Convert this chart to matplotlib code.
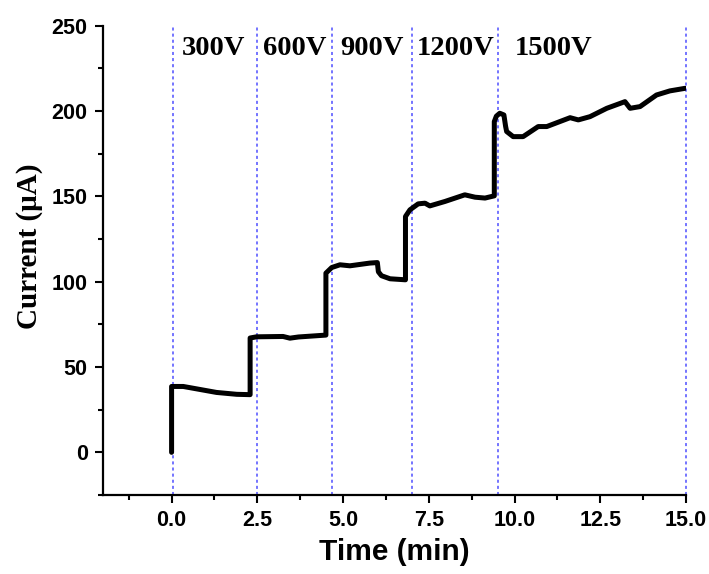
import matplotlib
matplotlib.use("Agg")
import matplotlib.pyplot as plt
from matplotlib.ticker import MultipleLocator

# ---- data ----
time_min = [0.0, 0.0, 0.34, 1.31, 1.9, 2.29, 2.29, 2.48, 3.25, 3.45, 3.7, 4.5,
            4.5, 4.67, 4.91, 5.2, 5.78, 6.0, 6.03, 6.12, 6.37, 6.82,
            6.82, 6.95, 7.19, 7.39, 7.53, 7.97, 8.55, 8.85, 9.14, 9.41,
            9.41, 9.47, 9.57, 9.69, 9.74, 9.77, 9.96, 10.25, 10.69, 10.94,
            11.62, 11.86, 12.2, 12.69, 13.22, 13.37, 13.66, 14.14, 14.53, 14.97]
current_uA = [0.0, 38.6, 38.6, 35.1, 34.0, 33.8, 67.0, 67.7, 67.9, 66.9, 67.6, 68.7,
              105.0, 108.3, 109.9, 109.3, 110.9, 111.2, 105.8, 103.5, 101.7, 101.1,
              138.2, 142.1, 145.6, 146.0, 144.4, 147.0, 150.9, 149.5, 149.0, 150.3,
              193.8, 197.0, 198.7, 197.7, 191.0, 188.0, 185.0, 185.0, 190.9, 190.9,
              196.1, 194.8, 196.7, 201.6, 205.5, 201.6, 202.6, 209.4, 211.8, 213.3]

boundaries = [0.05, 2.48, 4.67, 7.02, 9.53, 15.0]
voltage_labels = ["300V", "600V", "900V", "1200V", "1500V"]
label_x = [0.3, 2.66, 4.91, 7.15, 10.01]
label_y = 233

x_ticks = [0.0, 2.5, 5.0, 7.5, 10.0, 12.5, 15.0]
y_ticks = [0, 50, 100, 150, 200, 250]

# ---- figure ----
fig = plt.figure(figsize=(7.09, 5.74), dpi=100)
ax = fig.add_axes([103/709, 1-495/574, (686-103)/709, (495-25.7)/574])

for b in boundaries:
    ax.axvline(b, color="#3b3bff", lw=1.1, ls=(0, (2.0, 2.0)), alpha=0.9,
               zorder=1, clip_on=False)

ax.plot(time_min, current_uA, color="black", lw=3.6,
        solid_joinstyle="round", solid_capstyle="round", zorder=3)

for txt, xv in zip(voltage_labels, label_x):
    ax.text(xv, label_y, txt, fontsize=20.5, fontweight="bold",
            family=["Liberation Serif", "DejaVu Serif"], va="baseline", ha="left")

ax.set_xlim(-2.0, 15.0)
ax.set_ylim(-25, 250)
ax.set_xticks(x_ticks)
ax.set_xticklabels([f"{v:.1f}" for v in x_ticks])
ax.set_yticks(y_ticks)
ax.xaxis.set_minor_locator(MultipleLocator(1.25))
ax.yaxis.set_minor_locator(MultipleLocator(25))

for s in ["top", "right"]:
    ax.spines[s].set_visible(False)
for s in ["left", "bottom"]:
    ax.spines[s].set_linewidth(1.6)

ax.tick_params(which="major", direction="out", length=6, width=1.5, pad=5,
               labelsize=15.5)
ax.tick_params(which="minor", direction="out", length=3.5, width=1.5)
for lab in ax.get_xticklabels() + ax.get_yticklabels():
    lab.set_fontfamily(["Liberation Sans", "DejaVu Sans"])
    lab.set_fontweight("bold")

ax.set_xlabel("Time (min)", fontsize=21.5, fontweight="bold",
              family=["Liberation Sans", "DejaVu Sans"])
ax.set_ylabel("Current (μA)", fontsize=21, fontweight="bold",
              family=["Liberation Serif", "DejaVu Serif"])
ax.xaxis.set_label_coords(0.5, -0.092)
ax.yaxis.set_label_coords(-0.103, 0.53)

fig.savefig("out.png", dpi=100)
